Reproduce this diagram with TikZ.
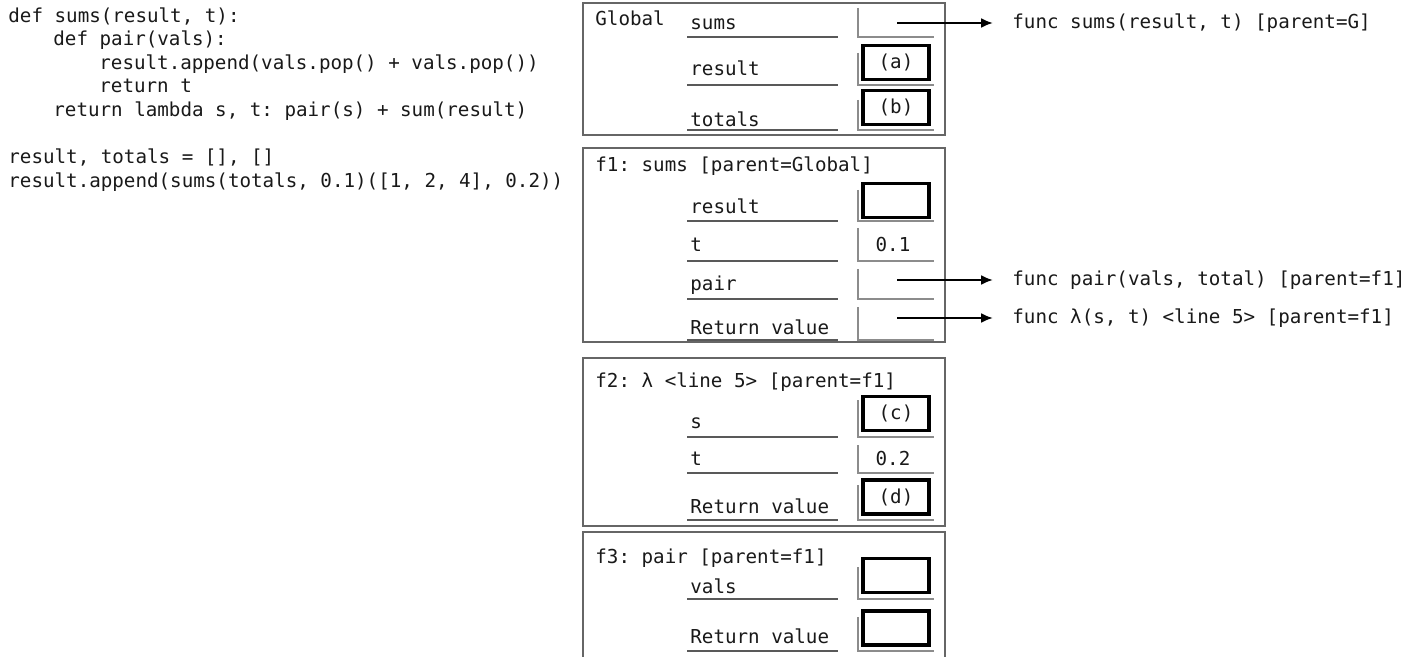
\documentclass[tikz,border=0pt]{standalone}
\usepackage{fontspec}
\setmonofont{DejaVu Sans Mono}
\usetikzlibrary{arrows.meta}
\tikzset{>={Latex[length=6pt,width=5pt]}}
\newcommand{\codefont}{\fontsize{9.6}{11}\selectfont\ttfamily}
\tikzset{code/.style = {anchor=base west, inner sep=0pt, font=\codefont, text=black!90}}
\tikzset{frame/.style = {draw=black!60, line width=1.1pt}}
\tikzset{underl/.style = {draw=black!65, line width=0.8pt}}
\tikzset{cell/.style = {draw=black!45, line width=0.8pt}}
\tikzset{objbox/.style = {draw=black, line width=1.6pt, minimum width=33pt, minimum height=17pt, inner sep=0pt, font=\codefont, text=black!90}}
\tikzset{val/.style = {anchor=base, inner sep=0pt, font=\codefont, text=black!90}}
\tikzset{fn/.style = {anchor=west, inner xsep=9.5pt, inner ysep=0pt, font=\codefont, text=black!90}}
\tikzset{ptr/.style = {->, line width=1.1pt}}

\begin{document}
\begin{tikzpicture}[x=0.5pt, y=-0.5pt]
    \useasboundingbox (0,0) rectangle (1416,657);

    \node[code] (c1) at (8,23) {def sums(result, t):};
    \node[code] (c2) at (53,46) {def pair(vals):};
    \node[code] (c3) at (99,70) {result.append(vals.pop() + vals.pop())};
    \node[code] (c4) at (99,93) {return t};
    \node[code] (c5) at (53,117) {return lambda s, t: pair(s) + sum(result)};
    \node[code] (c6) at (8,164) {result, totals = [], []};
    \node[code] (c7) at (8,188) {result.append(sums(totals, 0.1)([1, 2, 4], 0.2))};

    \draw[frame] (583,3) rectangle (945,135);
    \draw[frame] (583,148) rectangle (945,342);
    \draw[frame] (583,358) rectangle (945,526);
    \draw[frame] (583,665) |- (945,532) -- (945,665);

    \node[code] (gtitle) at (595,26) {Global};
    \node[code] (f1title) at (595,172) {f1: sums [parent=Global]};
    \node[code] (f2title) at (595,387) {f2: λ <line 5> [parent=f1]};
    \node[code] (f3title) at (595,563) {f3: pair [parent=f1]};

    \foreach \n/\t/\b/\u/\c in {gsums/sums/30/37/8, gresult/result/76/85/53, gtotals/totals/127/130/100,
        fresult/result/214/221/190, ft/t/252/261/228, fpair/pair/291/299/269, fret/Return value/335/340/307,
        ls/s/428/437/400, lt/t/465/473/445, lret/Return value/513/520/485,
        pvals/vals/593/599/567, pret/Return value/643/651/617}{
        \node[code] (\n) at (690,\b) {\t};
        \draw[underl] (687,\u) -- (838,\u);
        \draw[cell] (858,\c) |- (934,\u);
    }

    \node[objbox] (boxa) at (896,62.5) {(a)};
    \node[objbox] (boxb) at (896,107.5) {(b)};
    \node[objbox] (boxr) at (896,200.5) {};
    \node[objbox] (boxc) at (896,413.5) {(c)};
    \node[objbox] (boxd) at (896,497) {(d)};
    \node[objbox] (boxv) at (896,575.5) {};
    \node[objbox] (boxp) at (896,628) {};

    \node[val] (tval1) at (893,252) {0.1};
    \node[val] (tval2) at (893,465) {0.2};

    \coordinate (sumsptr) at (897,23);
    \coordinate (pairptr) at (897,280);
    \coordinate (lamptr) at (897,318);
    \node[fn] (sumsfn) at (993,23) {func sums(result, t) [parent=G]};
    \node[fn] (pairfn) at (993,280) {func pair(vals, total) [parent=f1]};
    \node[fn] (lamfn) at (993,318) {func λ(s, t) <line 5> [parent=f1]};

    \draw[ptr] (sumsptr) -- (sumsfn);
    \draw[ptr] (pairptr) -- (pairfn);
    \draw[ptr] (lamptr) -- (lamfn);
\end{tikzpicture}
\end{document}
